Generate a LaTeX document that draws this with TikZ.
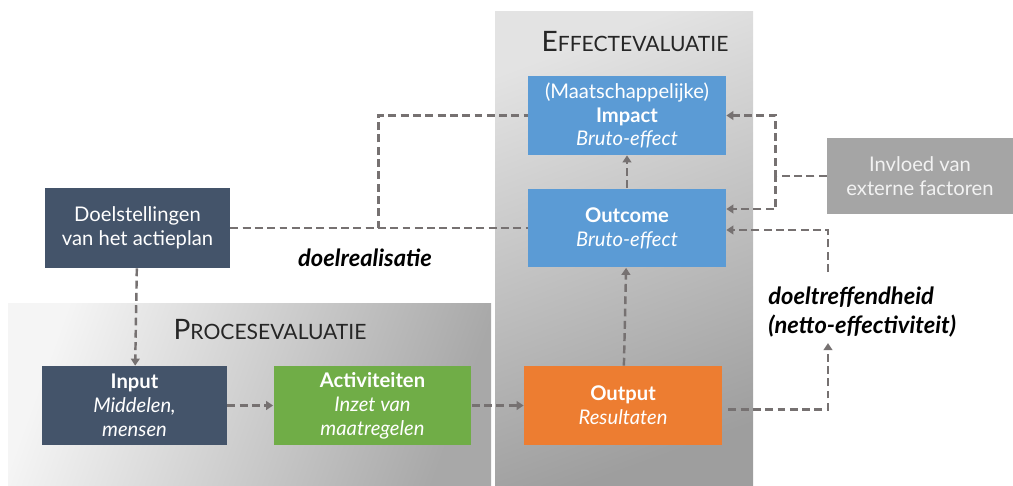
\documentclass[tikz,border=0pt]{standalone}
\usepackage{fontspec}
\setmainfont{Lato}
\usetikzlibrary{arrows.meta,calc}
\definecolor{boxblue}{RGB}{91,155,213}
\definecolor{boxnavy}{RGB}{68,84,106}
\definecolor{boxgreen}{RGB}{112,173,71}
\definecolor{boxorange}{RGB}{237,125,49}
\definecolor{boxgray}{RGB}{165,165,165}
\definecolor{linkgray}{RGB}{118,113,113}

\begin{document}
\begin{tikzpicture}[x=0.02cm, y=-0.02cm,
    box/.style={minimum width=3.96cm, minimum height=1.58cm, align=center,
                text=white, inner sep=2pt, font=\fontsize{11.5}{13.6}\selectfont},
    link/.style={draw=linkgray, line width=1.4pt, dash pattern=on 4.5pt off 2.5pt},
    tip/.style={link, -{Triangle[length=4pt,width=5pt]}},
    lbl/.style={font=\fontsize{13.5}{16}\selectfont\bfseries\itshape, inner sep=0pt},
    heading/.style={text=black!85}
]
\useasboundingbox (0,0) rectangle (1013,486);

\shade[left color=black!4, right color=black!34, shading angle=70] (8,303) rectangle (491,486);
\shade[top color=black!11, bottom color=black!38, shading angle=20] (495,12) rectangle (753,486);

\node[heading] (proctitle) at (270,330)
  {{\fontsize{16}{16}\selectfont P}{\fontsize{12}{12}\selectfont ROCESEVALUATIE}};
\node[heading] (efftitle) at (635,42)
  {{\fontsize{16}{16}\selectfont E}{\fontsize{12}{12}\selectfont FFECTEVALUATIE}};

\node[box, fill=boxblue] (impact) at (627,115.5)
  {(Maatschappelijke)\\\textbf{Impact}\\\textit{Bruto-effect}};
\node[box, fill=boxblue] (outcome) at (627,228)
  {\textbf{Outcome}\\\textit{Bruto-effect}};
\node[box, fill=boxorange] (output) at (623,405.5)
  {\textbf{Output}\\\textit{Resultaten}};
\node[box, fill=boxgreen] (activ) at (372.5,405.5)
  {\textbf{Activiteiten}\\\textit{Inzet van}\\\textit{maatregelen}};
\node[box, fill=boxnavy, minimum width=3.7cm] (input) at (134.5,405.5)
  {\textbf{Input}\\\textit{Middelen,}\\\textit{mensen}};
\node[box, fill=boxnavy, minimum width=3.7cm, minimum height=1.6cm] (doel) at (137.5,228)
  {Doelstellingen\\van het actieplan};
\node[box, fill=boxgray, minimum width=3.72cm, minimum height=1.52cm, text=white!95!black] (invloed) at (920,176)
  {Invloed van\\externe factoren};

\node[lbl] (realisatie) at (365,258) {doelrealisatie};
\node[lbl, anchor=north west, align=left] (treffend) at (768,287)
  {doeltreffendheid\\(netto-effectiviteit)};

\draw[link] (doel) -- (outcome);
\draw[link] (doel.east) -- ++(148,0) |- (impact.west);
\draw[tip] (doel) -- (input);
\draw[tip] (input) -- (activ);
\draw[tip] (activ.east) -- (output.west |- activ.east);
\draw[tip] (output) -- (outcome);
\draw[tip] (outcome) -- (impact);
\draw[tip] (invloed.west) -- ++(-51,0) |- (impact.east);
\draw[tip] (invloed.west) -- ++(-51,0) |- ($(outcome.east)+(0,-19)$);
\draw[tip] ($(output.east)+(6,4)$) -| ($(treffend.south west)+(60,6)$);
\draw[tip] ($(treffend.north west)+(60,-15)$) |- ($(outcome.east)+(0,2)$);
\end{tikzpicture}
\end{document}
